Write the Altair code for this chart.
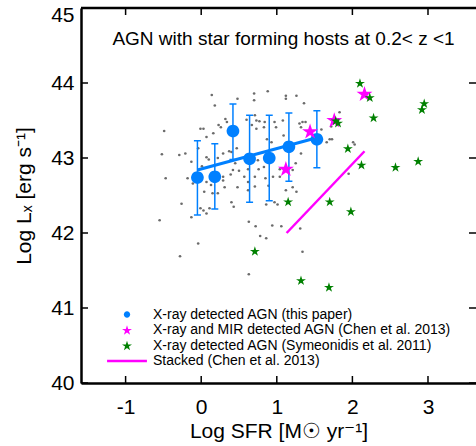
import altair as alt
import pandas as pd

FONT = "Liberation Sans"
W, H = 395, 375
BLUE = "#0080ff"
MAGENTA = "#ff00ff"
GREEN = "#008000"
GRAY = "#6b6b6b"

# ---- data ----
dots_x = [0.14, 0.70, 0.88, 1.12, 1.26, 0.18, 0.70, 1.12, 1.36, 0.48, -0.49, -0.01, 0.03, 0.07, 0.16,
          0.26, 0.23, 0.32, 0.34, 0.60, 0.71, 0.73, 0.77, 0.84, 0.83, 0.97, 0.99, 1.08, 1.30, 1.32,
          1.34, 1.38, 1.09, -0.52, -0.29, -0.21, -0.13, -0.04, 0.07, 0.10, 0.01, 0.22, 0.29, 0.37,
          0.40, 0.45, 0.47, 0.42, 0.50, 0.39, 0.29, 0.29, 0.31, 0.22, 0.15, 0.13, 0.07, 0.04, 0.11,
          0.03, 0.07, -0.01, -0.13, -0.11, -0.18, -0.47, -0.26, -0.55, -0.04, -0.28, 0.48, 0.57,
          0.62, 0.62, 0.71, 0.71, 0.62, 0.75, 0.76, 0.83, 0.85, 0.89, 0.95, 1.04, 1.04, 1.21, 1.25,
          1.12, 1.21, 1.26, 0.86, 0.97, 1.01, 0.63, 0.72, 0.94, 1.06, 0.78, 0.86, 1.34, 0.43, 1.59,
          1.70, 1.73, 1.66, 1.83, 2.01, 2.03, 1.95, 1.31, 0.63, 1.72, 0.40, 0.87, 0.93, 1.32, 0.67,
          0.73]
dots_y = [43.84, 43.86, 43.89, 43.83, 43.83, 43.70, 43.77, 43.79, 43.73, 43.79, 43.36, 43.39, 43.39,
          43.28, 43.33, 43.41, 43.44, 43.52, 43.48, 43.51, 43.57, 43.50, 43.49, 43.48, 43.41, 43.48,
          43.41, 43.50, 43.46, 43.41, 43.48, 43.48, 43.30, 43.05, 43.04, 43.06, 42.95, 43.13, 43.01,
          42.98, 42.89, 43.00, 43.06, 43.09, 43.08, 42.93, 43.13, 42.84, 42.83, 42.78, 42.75, 42.70,
          42.61, 42.53, 42.53, 42.64, 42.68, 42.55, 42.33, 42.30, 42.26, 42.33, 42.21, 42.66, 42.73,
          42.73, 42.39, 42.17, 41.86, 41.69, 42.61, 42.75, 42.68, 42.57, 42.62, 42.75, 42.85, 42.97,
          42.85, 42.88, 42.73, 42.63, 42.75, 42.75, 42.85, 42.84, 42.93, 42.57, 42.61, 42.55, 42.38,
          42.41, 42.38, 42.15, 42.09, 42.10, 42.09, 41.96, 41.93, 41.75, 42.35, 43.38, 43.25, 43.25,
          43.21, 43.61, 43.21, 43.18, 42.79, 42.06, 41.45, 43.42, 42.41, 43.25, 43.21, 43.06, 43.44,
          43.39]

blue_x = [-0.05, 0.18, 0.42, 0.64, 0.90, 1.16, 1.53]
blue_y = [42.74, 42.75, 43.36, 42.99, 43.00, 43.15, 43.25]
blue_lo = [42.24, 42.32, 42.98, 42.41, 42.43, 42.69, 42.87]
blue_hi = [43.23, 43.19, 43.72, 43.57, 43.57, 43.60, 43.63]
fit_x = [-0.05, 1.53]
fit_y = [42.84, 43.27]

chen_x = [1.12, 1.44, 1.76, 2.16]
chen_y = [42.86, 43.36, 43.51, 43.86]

sym_x = [2.10, 2.23, 2.95, 2.92, 2.28, 1.78, 1.81, 1.94, 2.12, 2.57, 2.87, 1.15, 1.70, 1.98,
         0.71, 1.32, 1.69]
sym_y = [44.00, 43.81, 43.73, 43.65, 43.54, 43.50, 43.47, 43.13, 42.91, 42.88, 42.96, 42.42,
         42.42, 42.29, 41.76, 41.37, 41.28]

stack_x = [1.13, 2.16]
stack_y = [42.00, 43.09]

series_names = ["X-ray detected AGN (this paper)",
                "X-ray and MIR detected AGN (Chen et al. 2013)",
                "X-ray detected AGN (Symeonidis et al. 2011)",
                "Stacked (Chen et al. 2013)"]

x_ticks = [-1, 0, 1, 2, 3]
y_ticks = [40, 41, 42, 43, 44, 45]

# ---- chart ----
CIRCLE = "M0.6,0A0.6,0.6 0 1,1 -0.6,0A0.6,0.6 0 1,1 0.6,0Z"
STAR = ("M0,-0.905L0.225,-0.214L0.951,-0.214L0.363,0.213L0.588,0.905L0,0.477"
        "L-0.588,0.905L-0.363,0.213L-0.951,-0.214L-0.225,-0.214Z")
BAR = "M-3.8,-0.25L3.8,-0.25L3.8,0.25L-3.8,0.25Z"

xs = alt.Scale(domain=[-1.59, 3.635], nice=False, zero=False)
ys = alt.Scale(domain=[40, 45], nice=False, zero=False)

X_AXIS = alt.Axis(values=x_ticks, ticks=False, grid=False, domain=True, domainWidth=2.5,
                  domainColor="black", labelFont=FONT, labelFontSize=21, labelColor="black",
                  labelPadding=13, labelFlush=False, labelOverlap=False,
                  labelExpr="datum.value < 0 ? '-' + abs(datum.value) : datum.label",
                  title="Log SFR [M\u2609 yr\u207b\u00b9]", titleFont=FONT, titleFontSize=21,
                  titleFontWeight="normal", titleColor="black", titlePadding=3)
Y_AXIS = alt.Axis(values=y_ticks, ticks=False, grid=False, domain=True, domainWidth=2.5,
                  domainColor="black", labelFont=FONT, labelFontSize=21, labelColor="black",
                  labelPadding=7, labelFlush=False, labelOverlap=False,
                  labelOffset={"condition": {"test": "datum.value === 45", "value": 7},
                               "value": 0},
                  title="Log L\u2093 [erg s\u207b\u00b9]", titleFont=FONT, titleFontSize=21,
                  titleFontWeight="normal", titleColor="black", titlePadding=16)

def X(field):
    return alt.X(field, type="quantitative", scale=xs, axis=X_AXIS)

def Y(field):
    return alt.Y(field, type="quantitative", scale=ys, axis=Y_AXIS)

LEGEND = alt.Legend(title=None, orient="none", legendX=39, legendY=299.5, padding=0,
                    labelFont=FONT, labelFontSize=14, labelColor="black", labelLimit=0,
                    symbolSize=110, labelOffset=19, rowPadding=1.5, symbolOpacity=1,
                    symbolStrokeWidth=0)

color_scale = alt.Scale(domain=series_names, range=[BLUE, MAGENTA, GREEN, MAGENTA])
shape_scale = alt.Scale(domain=series_names, range=[CIRCLE, STAR, STAR, BAR])

def series_enc(name_field="series"):
    return dict(color=alt.Color(name_field, type="nominal", scale=color_scale, legend=LEGEND),
                shape=alt.Shape(name_field, type="nominal", scale=shape_scale, legend=LEGEND))

dots_df = pd.DataFrame({"x": dots_x, "y": dots_y})
blue_df = pd.DataFrame({"x": blue_x, "y": blue_y, "lo": blue_lo, "hi": blue_hi,
                        "series": series_names[0]})
fit_df = pd.DataFrame({"x": fit_x, "y": fit_y})
chen_df = pd.DataFrame({"x": chen_x, "y": chen_y, "series": series_names[1]})
sym_df = pd.DataFrame({"x": sym_x, "y": sym_y, "series": series_names[2]})
stack_df = pd.DataFrame({"x": stack_x, "y": stack_y})
xt_df = pd.DataFrame({"v": x_ticks})
yt_df = pd.DataFrame({"v": y_ticks})

dots = alt.Chart(dots_df).mark_point(filled=True, shape="circle", size=7, color=GRAY,
                                     opacity=1).encode(x=X("x"), y=Y("y"))
err = alt.Chart(blue_df).mark_rule(color=BLUE, strokeWidth=1.5).encode(
    x=X("x"), y=Y("lo"), y2="hi")
cap_lo = alt.Chart(blue_df).mark_tick(orient="horizontal", color=BLUE, thickness=1.5, size=7,
                                      opacity=1).encode(x=X("x"), y=Y("lo"))
cap_hi = alt.Chart(blue_df).mark_tick(orient="horizontal", color=BLUE, thickness=1.5, size=7,
                                      opacity=1).encode(x=X("x"), y=Y("hi"))
fit = alt.Chart(fit_df).mark_line(color=BLUE, strokeWidth=3).encode(x=X("x"), y=Y("y"))
blue_pts = alt.Chart(blue_df).mark_point(filled=True, size=448, opacity=1, strokeWidth=0).encode(
    x=X("x"), y=Y("y"), **series_enc())
stack = alt.Chart(stack_df).mark_line(color=MAGENTA, strokeWidth=2.5).encode(x=X("x"), y=Y("y"))
chen = alt.Chart(chen_df).mark_point(filled=True, size=280, opacity=1, strokeWidth=0).encode(
    x=X("x"), y=Y("y"), **series_enc())
sym = alt.Chart(sym_df).mark_point(filled=True, size=110, opacity=1, strokeWidth=0).encode(
    x=X("x"), y=Y("y"), **series_enc())

tick_len = 7
bx = alt.Chart(xt_df).mark_rule(color="black", strokeWidth=1.5).encode(
    x=X("v"), y=alt.value(H), y2=alt.value(H - tick_len))
tx = alt.Chart(xt_df).mark_rule(color="black", strokeWidth=1.5).encode(
    x=X("v"), y=alt.value(0), y2=alt.value(tick_len))
ly = alt.Chart(yt_df).mark_rule(color="black", strokeWidth=1.5).encode(
    y=Y("v"), x=alt.value(0), x2=alt.value(tick_len))
ry = alt.Chart(yt_df).mark_rule(color="black", strokeWidth=1.5).encode(
    y=Y("v"), x=alt.value(W - tick_len), x2=alt.value(W))
top = alt.Chart(pd.DataFrame({"a": [0]})).mark_rule(color="black", strokeWidth=2.5).encode(
    y=alt.value(0), x=alt.value(0), x2=alt.value(W))

chart = alt.layer(dots, err, cap_lo, cap_hi, fit, blue_pts, stack, chen, sym,
                  bx, tx, ly, ry, top).properties(
    width=W, height=H,
    autosize=alt.AutoSizeParams(type="none"),
    padding={"left": 81, "top": 8, "right": 0, "bottom": 63},
    title=alt.TitleParams("AGN with star forming hosts at 0.2< z <1", font=FONT, fontSize=19,
                          fontWeight="normal", color="black", anchor="middle", frame="group",
                          baseline="alphabetic", offset=0, dy=59.5, dx=5),
    background="white",
).configure_view(stroke=None)

chart.save("out.html", embed_options={"renderer": "svg", "actions": False})
